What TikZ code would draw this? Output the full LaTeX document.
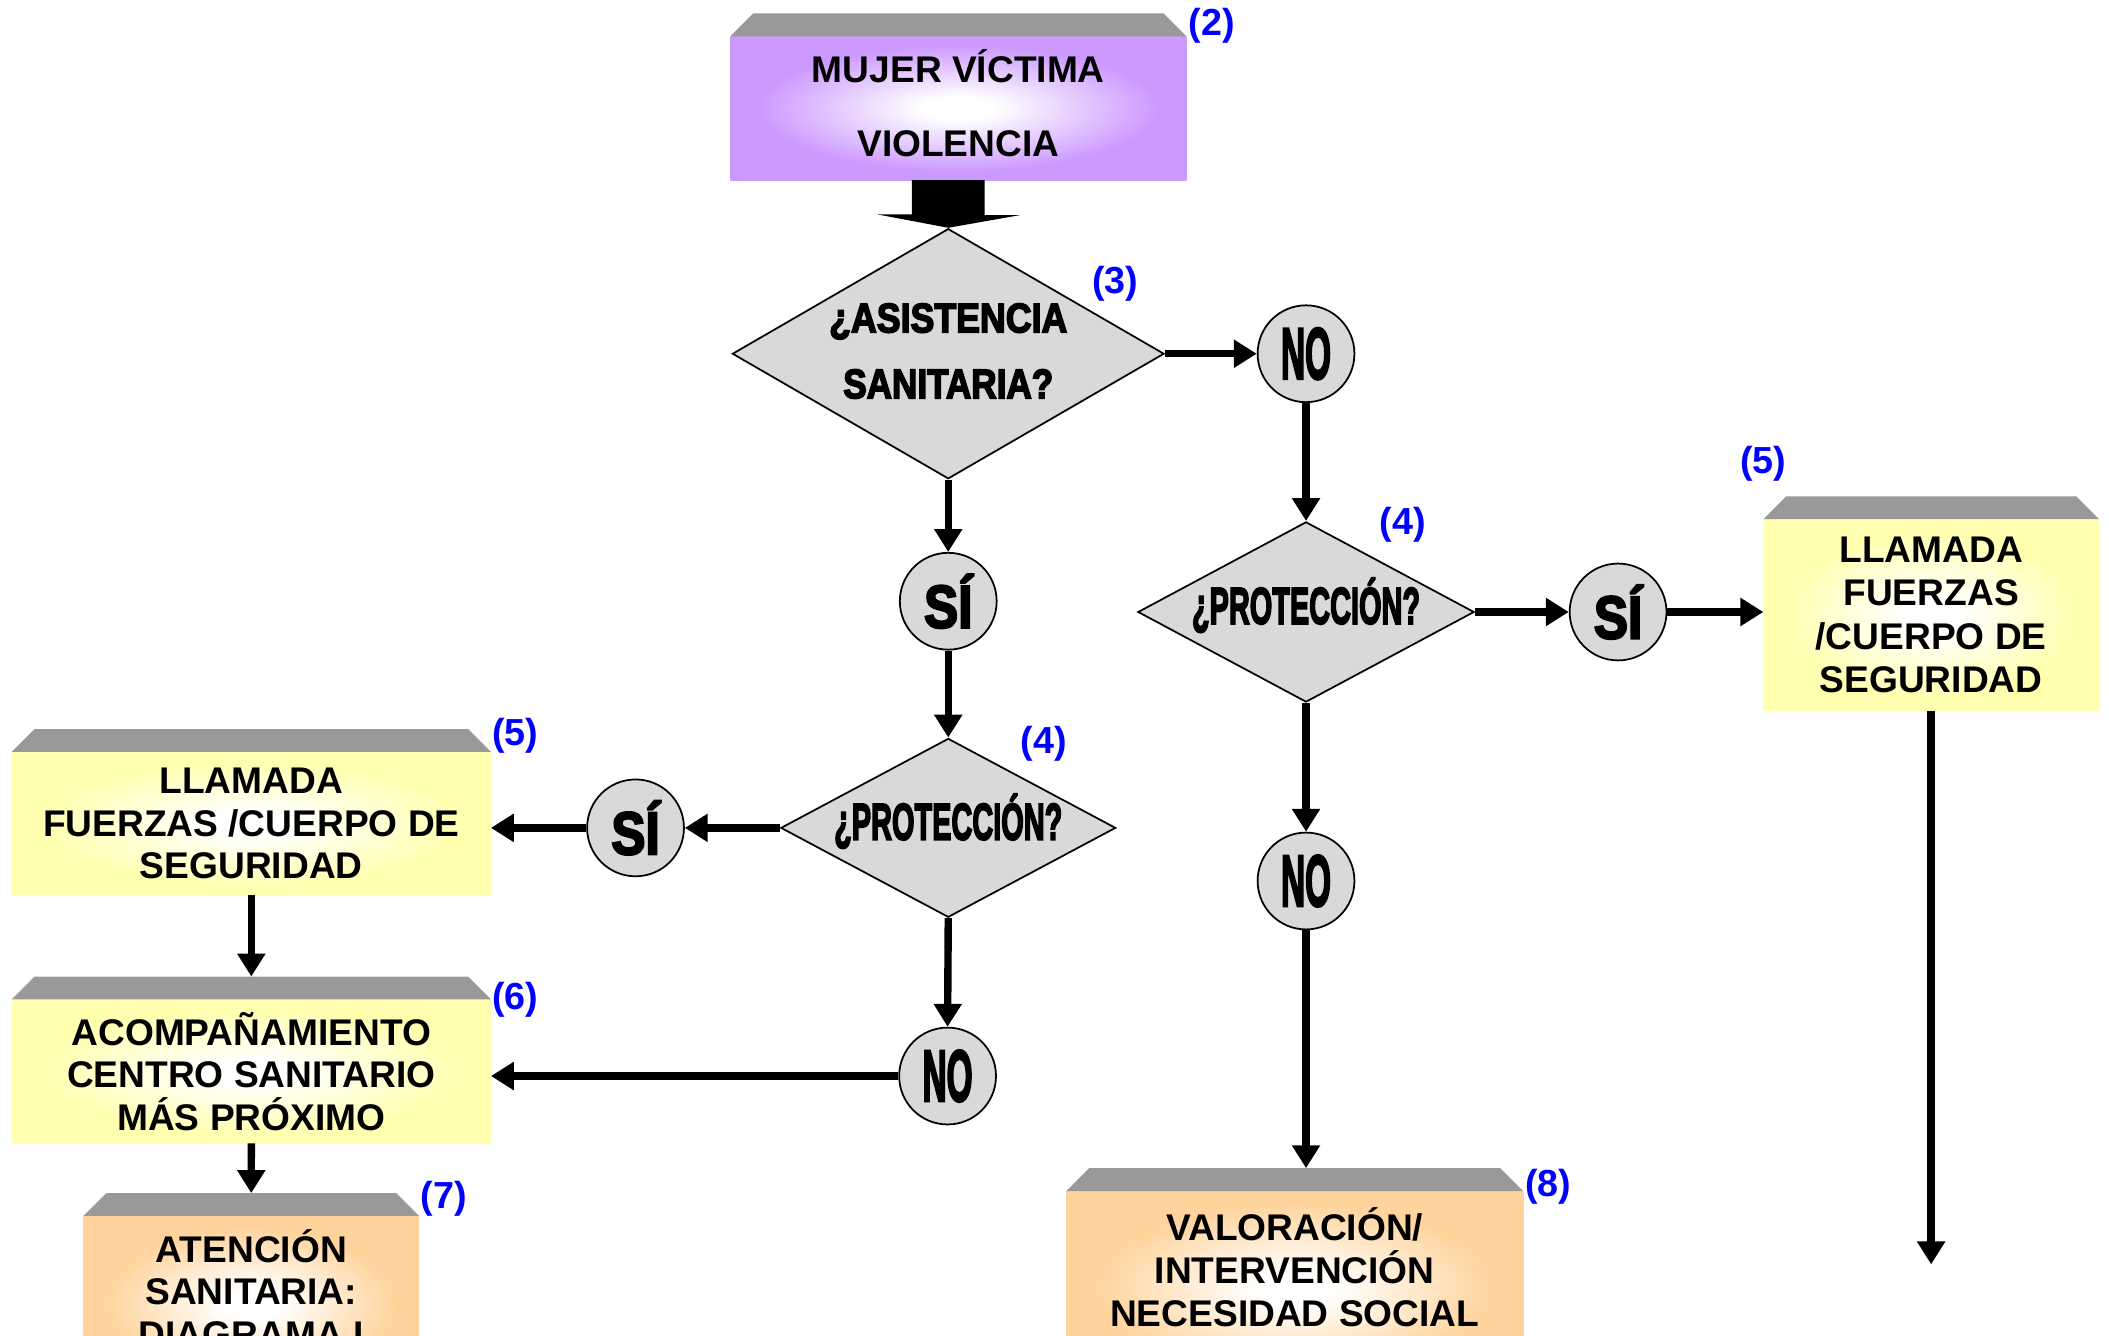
\documentclass[tikz,border=0pt]{standalone}
\usepackage{fontspec}
\setmainfont{Liberation Sans}
\newfontfamily\impf{Liberation Sans}[BoldFeatures={FakeBold=4}]
\usetikzlibrary{arrows.meta,shapes.geometric,calc}
\definecolor{topgray}{RGB}{153,153,153}
\definecolor{diagray}{RGB}{217,217,217}
\definecolor{boxpurple}{RGB}{204,153,255}
\definecolor{boxyellow}{RGB}{255,255,175}
\definecolor{boxorange}{RGB}{255,211,155}
\definecolor{refblue}{RGB}{0,0,255}
\pgfdeclareradialshading{purpshade}{\pgfpoint{0bp}{0bp}}{color(0bp)=(white); color(4bp)=(white); color(22bp)=(boxpurple); color(50bp)=(boxpurple)}
\pgfdeclareradialshading{yelshade}{\pgfpoint{0bp}{0bp}}{color(0bp)=(white); color(4bp)=(white); color(22bp)=(boxyellow); color(50bp)=(boxyellow)}
\pgfdeclareradialshading{orashade}{\pgfpoint{0bp}{0bp}}{color(0bp)=(white); color(4bp)=(white); color(22bp)=(boxorange); color(50bp)=(boxorange)}
\tikzset{
  boxbase/.style={rectangle, inner sep=0pt, outer sep=0pt, align=center, font=\bfseries\fontsize{27.6}{31.5}\selectfont},
  purplebox/.style={boxbase, shade, shading=purpshade},
  yellowbox/.style={boxbase, shade, shading=yelshade},
  orangebox/.style={boxbase, shade, shading=orashade},
  boxtext/.style={inner sep=0pt, align=center, font=\bfseries\fontsize{27.6}{31.5}\selectfont},
  decision/.style={diamond, draw=black, line width=1.3pt, fill=diagray, inner sep=0pt},
  dtext/.style={inner sep=0pt, align=center, font=\impf\bfseries\fontsize{30.7}{49}\selectfont},
  answer/.style={circle, draw=black, line width=1.3pt, fill=diagray, minimum size=72pt, inner sep=0pt},
  reflabel/.style={text=refblue, inner sep=0pt, font=\bfseries\fontsize{28}{28}\selectfont},
  arr/.style={line width=5.5pt, -{Triangle[length=17pt,width=20pt]}},
  lid/.style={fill=topgray}
}
\newcommand{\nolabel}{\scalebox{0.46}[1]{\impf\bfseries\fontsize{53.8}{53.8}\selectfont NO}}
\newcommand{\silabel}{\scalebox{0.85}[1]{\impf\bfseries\fontsize{44.7}{44.7}\selectfont SÍ}}
\newcommand{\protlabel}{\scalebox{0.56}[1]{\impf\bfseries\fontsize{38.4}{38.4}\selectfont ¿PROTECCIÓN?}}
\begin{document}
\begin{tikzpicture}[x=1pt,y=-1pt]
\useasboundingbox (0,0) rectangle (1568,993);
\fill[white] (0,0) rectangle (1568,993);
\clip (0,0) rectangle (1568,993);

% boxes
\node[purplebox, minimum width=339pt, minimum height=107pt] (B2) at (712.5,80.5) {};
\node[boxtext, font=\bfseries\fontsize{27.6}{55}\selectfont] (B2txt) at (712.5,77) {MUJER VÍCTIMA\\VIOLENCIA};
\node[yellowbox, minimum width=356.3pt, minimum height=106.5pt] (B5L) at (186.85,612.25) {LLAMADA\\FUERZAS /CUERPO DE\\SEGURIDAD};
\node[yellowbox, minimum width=356.3pt, minimum height=107pt] (B6) at (186.85,796.5) {ACOMPAÑAMIENTO\\CENTRO SANITARIO\\MÁS PRÓXIMO};
\node[yellowbox, minimum width=249.5pt, minimum height=142.5pt, font=\bfseries\fontsize{27.6}{32.3}\selectfont] (B5R) at (1435.75,457.25) {LLAMADA\\FUERZAS\\/CUERPO DE\\SEGURIDAD};
\node[orangebox, minimum width=249.6pt, minimum height=131pt] (B7) at (186.8,969.5) {};
\node[boxtext] (B7txt) at (186.8,958) {ATENCIÓN\\SANITARIA:\\DIAGRAMA I};
\node[orangebox, minimum width=339.8pt, minimum height=144.5pt] (B8) at (962.6,957.75) {};
\node[boxtext, font=\bfseries\fontsize{27.6}{32}\selectfont] (B8txt) at (962.6,942) {VALORACIÓN/\\INTERVENCIÓN\\NECESIDAD SOCIAL};

% lids
\foreach \b in {B2,B5L,B6,B5R,B7,B8}{
  \fill[lid] (\b.north west) -- ++(17,-17) -- ([shift={(-17pt,17pt)}]\b.north east) -- (\b.north east) -- cycle;
  \coordinate (\b t) at ([yshift=17pt]\b.north);
}

% reference labels
\node[reflabel] (L2) at (901,19) {(2)};
\node[reflabel] (L3) at (829,211) {(3)};
\node[reflabel] (L4a) at (1043,390) {(4)};
\node[reflabel] (L4b) at (776,553) {(4)};
\node[reflabel] (L5a) at (383,547) {(5)};
\node[reflabel] (L5b) at (1311,345) {(5)};
\node[reflabel] (L6) at (383,743) {(6)};
\node[reflabel] (L7) at (330,891) {(7)};
\node[reflabel] (L8) at (1151,882) {(8)};

% decisions
\node[decision, minimum width=321pt, minimum height=186pt] (D1) at (705,263) {};
\node[dtext] (D1txt) at (705,261) {\scalebox{0.865}[1]{¿ASISTENCIA}\\\scalebox{0.85}[1]{SANITARIA?}};
\node[decision, minimum width=250pt, minimum height=134pt] (D2) at (971,455) {};
\node[dtext] (D2txt) at (971,450) {\protlabel};
\node[decision, minimum width=249pt, minimum height=133pt] (D3) at (705,615.5) {};
\node[dtext] (D3txt) at (705,610.5) {\protlabel};

% answers
\node[answer] (NO1) at (971,263) {\nolabel};
\node[answer] (SI1) at (705,447) {\silabel};
\node[answer] (SI2) at (1203,455) {\silabel};
\node[answer] (SI3) at (472.5,615.5) {\silabel};
\node[answer] (NO3) at (971,655) {\nolabel};
\node[answer] (NO4) at (704.5,800) {\nolabel};

\coordinate (endR) at (1435.75,940);

% block arrow from B2 to D1
\coordinate (ar) at (D1.north |- B2.south);
\fill[black] (ar) ++(-27,0) -- ++(54,0) -- ++(0,26) -- ++(26,0) -- (D1.north) -- ++(-53,-10) -- ++(26,0) -- cycle;

% connectors
\draw[arr] (D1.east) -- (NO1.west);
\draw[arr] (NO1.south) -- (D2.north);
\draw[arr] (D2.east) -- (SI2.west);
\draw[arr] (SI2.east) -- (SI2.east -| B5R.west);
\draw[arr] (B5R.south) -- (endR);
\draw[arr] (D2.south) -- (NO3.north);
\draw[arr] (NO3.south) -- (NO3.south |- B8t);
\draw[arr] (D1.south) -- (SI1.north);
\draw[arr] (SI1.south) -- (D3.north);
\draw[arr] (D3.west) -- (SI3.east);
\draw[arr] (SI3.west) -- (SI3.west -| B5L.east);
\draw[arr] (B5L.south) -- (B6t);
\draw[arr] (D3.south) -- (NO4.north);
\draw[arr] (NO4.west) -- (NO4.west -| B6.east);
\draw[arr] (B6.south) -- (B7t);
\end{tikzpicture}
\end{document}
